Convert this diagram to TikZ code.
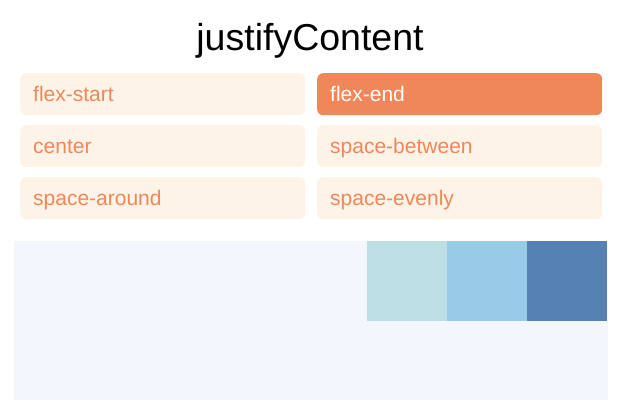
\documentclass[tikz,border=0pt]{standalone}
\usepackage{fontspec}
\setmainfont{Liberation Sans}
\definecolor{btnbg}{HTML}{FDF3E6}
\definecolor{btnfg}{HTML}{F0875A}
\definecolor{boxbg}{HTML}{F3F7FD}
\definecolor{sqa}{HTML}{BBDFE5}
\definecolor{sqb}{HTML}{98CBE6}
\definecolor{sqc}{HTML}{5681B3}
\begin{document}
\begin{tikzpicture}[x=1pt,y=-1pt,
  btn/.style={rectangle,rounded corners=6pt,fill=btnbg,text=btnfg,
    minimum width=285pt,minimum height=42pt,inner xsep=13pt,inner ysep=0pt,
    text width=259pt,align=left,text height=15pt,text depth=0pt,
    font=\fontsize{21}{21}\selectfont,anchor=north west},
  btnon/.style={btn,fill=btnfg,text=white},
  sq/.style={rectangle,minimum width=80pt,minimum height=80pt,inner sep=0pt,anchor=north west}]
\useasboundingbox (0,0) rectangle (624,400);
\fill[white] (0,0) rectangle (624,400);
\node[font=\fontsize{37.5}{37.5}\selectfont,anchor=base] (title) at (310,50) {justifyContent};
\node[btn] (fs) at (20,73) {flex-start};
\node[btnon] (fe) at (317,73) {flex-end};
\node[btn] (ce) at (20,125) {center};
\node[btn] (sb) at (317,125) {space-between};
\node[btn] (sa) at (20,177) {space-around};
\node[btn] (se) at (317,177) {space-evenly};
\node[rectangle,fill=boxbg,minimum width=594pt,minimum height=159pt,inner sep=0pt,anchor=north west] (cont) at (14,241) {};
\node[sq,fill=sqa] (s1) at (367,241) {};
\node[sq,fill=sqb] (s2) at (447,241) {};
\node[sq,fill=sqc] (s3) at (527,241) {};
\end{tikzpicture}
\end{document}
